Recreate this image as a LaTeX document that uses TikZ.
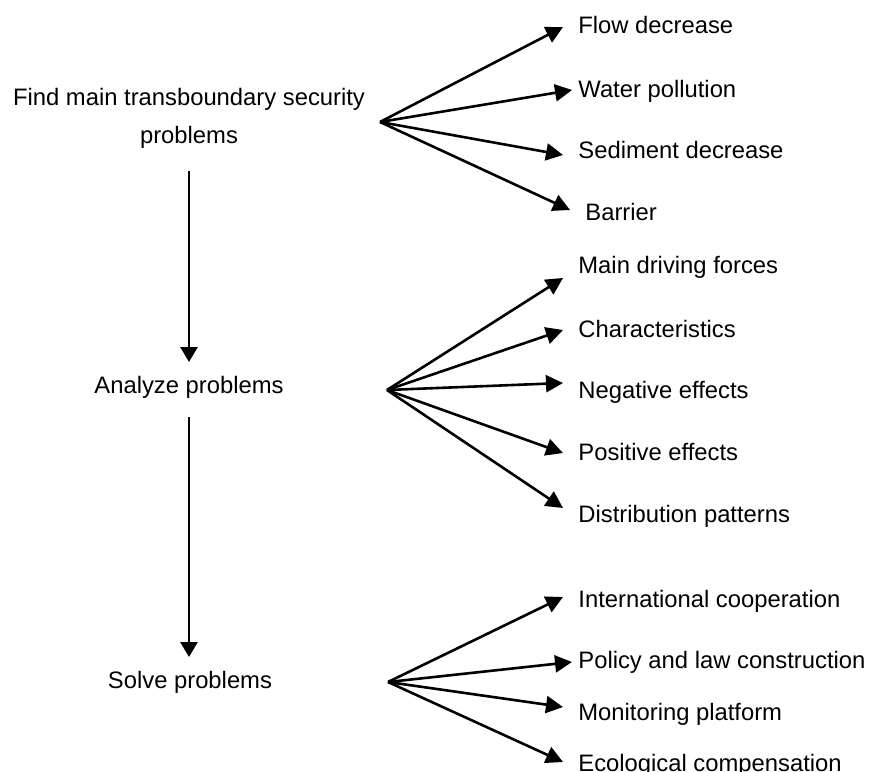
\documentclass[tikz,border=0pt]{standalone}
\usepackage{fontspec}
\setmainfont{Liberation Sans}
\usetikzlibrary{arrows.meta}
\begin{document}
\begin{tikzpicture}[x=0.5pt,y=-0.5pt,
  lbl/.style={anchor=base west,inner sep=0pt,font=\fontsize{11.9}{14}\selectfont},
  stage/.style={anchor=base,inner sep=0pt,font=\fontsize{11.9}{14}\selectfont},
  arr/.style={line width=1.3pt,-{Triangle[length=8.5pt,width=8.5pt]}},
  varr/.style={line width=1.3pt,-{Triangle[length=7.5pt,width=8.5pt]}}]
\useasboundingbox (0,0) rectangle (870,771);
% left stages
\node[stage] (find) at (189,105) {Find main transboundary security};
\node[stage] (findb) at (189,143) {problems};
\node[stage] (analyze) at (189,393) {Analyze problems};
\node[stage] (solve) at (190,688) {Solve problems};
% vertical arrows
\coordinate (v1s) at (189,171);
\coordinate (v1e) at (189,362);
\coordinate (v2s) at (189,417);
\coordinate (v2e) at (189,657);
\draw[varr] (v1s) -- (v1e);
\draw[varr] (v2s) -- (v2e);
% fan origins
\coordinate (o1) at (380,122);
\coordinate (o2) at (387,390);
\coordinate (o3) at (388,682);
% group 1
\node[lbl] (flow) at (578,33) {Flow decrease};
\node[lbl] (water) at (578,97) {Water pollution};
\node[lbl] (sed) at (578,158) {Sediment decrease};
\node[lbl] (bar) at (585,220) {Barrier};
\coordinate (t11) at (563,27);
\coordinate (t12) at (572,90);
\coordinate (t13) at (563,155);
\coordinate (t14) at (570,210);
\foreach \t in {t11,t12,t13,t14} \draw[arr] (o1) -- (\t);
% group 2
\node[lbl] (main) at (578,273) {Main driving forces};
\node[lbl] (char) at (578,337) {Characteristics};
\node[lbl] (neg) at (578,398) {Negative effects};
\node[lbl] (pos) at (578,460) {Positive effects};
\node[lbl] (dist) at (578,522) {Distribution patterns};
\coordinate (t21) at (563,278);
\coordinate (t22) at (563,330);
\coordinate (t23) at (563,383);
\coordinate (t24) at (563,453);
\coordinate (t25) at (563,508);
\foreach \t in {t21,t22,t23,t24,t25} \draw[arr] (o2) -- (\t);
% group 3
\node[lbl] (intl) at (578,607) {International cooperation};
\node[lbl] (pol) at (578,668) {Policy and law construction};
\node[lbl] (mon) at (578,720) {Monitoring platform};
\node[lbl] (eco) at (578,771) {Ecological compensation};
\coordinate (t31) at (563,597);
\coordinate (t32) at (572,662);
\coordinate (t33) at (563,707);
\coordinate (t34) at (563,762);
\foreach \t in {t31,t32,t33,t34} \draw[arr] (o3) -- (\t);
\end{tikzpicture}
\end{document}
